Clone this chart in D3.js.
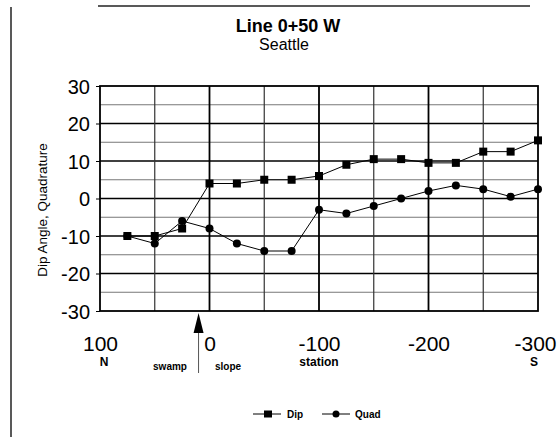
<!DOCTYPE html>
<html>
<head>
<meta charset="utf-8">
<script src="https://cdn.jsdelivr.net/npm/d3@7"></script>
<style>
  body { margin: 0; background: #fff; }
  svg { font-family: Arial, "Liberation Sans", sans-serif; }
</style>
</head>
<body>
<div id="chart"></div>
<script>
// station positions (50 = N end, -300 = S end)
var stations = [75, 50, 25, 0, -25, -50, -75, -100, -125, -150, -175, -200, -225, -250, -275, -300];
var dipValues = [-10, -10, -8, 4, 4, 5, 5, 6, 9, 10.5, 10.5, 9.5, 9.5, 12.5, 12.5, 15.5];
var quadValues = [-10, -12, -6, -8, -12, -14, -14, -3, -4, -2, 0, 2, 3.5, 2.5, 0.5, 2.5];
var xTicks = [100, 0, -100, -200, -300];
var xSubLabels = [{ v: 100, t: "N" }, { v: -100, t: "station" }, { v: -300, t: "S" }];
var yTicks = [30, 20, 10, 0, -10, -20, -30];

var width = 560, height = 437;
var margin = { top: 86, right: 22, bottom: 126, left: 100 };

var svg = d3.select("#chart").append("svg")
  .attr("width", width)
  .attr("height", height);

var x = d3.scaleLinear()
  .domain([100, -300])
  .range([margin.left, width - margin.right]);

var y = d3.scaleLinear()
  .domain([-30, 30])
  .range([height - margin.bottom, margin.top]);

// plain hyphen minus like the original
var fmt = function(d) { return String(d); };

// scanned page frame
svg.append("line")
  .attr("x1", 11).attr("x2", 11)
  .attr("y1", 7).attr("y2", height)
  .attr("stroke", "#222").attr("stroke-width", 1.5);
svg.append("line")
  .attr("x1", 98).attr("x2", 530)
  .attr("y1", 6).attr("y2", 6)
  .attr("stroke", "#222").attr("stroke-width", 1.5);

// title
svg.append("text")
  .attr("x", 288).attr("y", 32)
  .attr("text-anchor", "middle")
  .attr("font-size", "18px").attr("font-weight", "bold")
  .text("Line 0+50 W");
svg.append("text")
  .attr("x", 284).attr("y", 50)
  .attr("text-anchor", "middle")
  .attr("font-size", "16px")
  .text("Seattle");

// horizontal grid, every 5
var hGrid = d3.range(-25, 30, 5);
svg.append("g").selectAll("line")
  .data(hGrid)
  .enter().append("line")
  .attr("x1", x(100)).attr("x2", x(-300))
  .attr("y1", function(d) { return y(d); })
  .attr("y2", function(d) { return y(d); })
  .attr("stroke", function(d) { return d % 10 == 0 ? "#000" : "#777"; })
  .attr("stroke-width", function(d) { return d % 10 == 0 ? 1.5 : 1.2; });

// vertical grid, every 50
var vGrid = d3.range(50, -300, -50);
svg.append("g").selectAll("line")
  .data(vGrid)
  .enter().append("line")
  .attr("x1", function(d) { return x(d); })
  .attr("x2", function(d) { return x(d); })
  .attr("y1", y(30)).attr("y2", y(-30))
  .attr("stroke", function(d) { return d % 100 == 0 ? "#000" : "#333"; })
  .attr("stroke-width", function(d) { return d % 100 == 0 ? 1.8 : 1.2; });

// plot frame
svg.append("rect")
  .attr("x", x(100)).attr("y", y(30))
  .attr("width", x(-300) - x(100))
  .attr("height", y(-30) - y(30))
  .attr("fill", "none")
  .attr("stroke", "#000").attr("stroke-width", 1.8);

// y axis
var yAxis = svg.append("g")
  .attr("transform", "translate(" + x(100) + ",0)")
  .call(d3.axisLeft(y).tickValues(yTicks).tickFormat(fmt).tickSize(4).tickPadding(6));
yAxis.select(".domain").remove();
yAxis.selectAll("text").attr("font-size", "20px").attr("font-family", "Arial, sans-serif").attr("dy", "0.36em");

svg.append("text")
  .attr("transform", "translate(47," + 210 + ") rotate(-90)")
  .attr("text-anchor", "middle")
  .attr("font-size", "13.5px")
  .text("Dip Angle, Quadrature");

// x axis labels
var xAxis = svg.append("g")
  .attr("transform", "translate(0," + y(-30) + ")")
  .call(d3.axisBottom(x).tickValues(xTicks).tickFormat(fmt).tickSize(0).tickPadding(25));
xAxis.select(".domain").remove();
xAxis.selectAll("text").attr("font-size", "21px").attr("font-family", "Arial, sans-serif");
xAxis.selectAll(".tick").filter(function(d) { return d == -300; })
  .select("text").attr("dx", "-3px");

svg.append("g").selectAll("text")
  .data(xSubLabels)
  .enter().append("text")
  .attr("x", function(d) { return x(d.v) + (d.v == 100 ? 4 : d.v == -300 ? -4 : 0); })
  .attr("y", 366)
  .attr("text-anchor", "middle")
  .attr("font-size", "12px").attr("font-weight", "bold")
  .text(function(d) { return d.t; });

// swamp / slope boundary arrow
var ax = x(10);
svg.append("line")
  .attr("x1", ax).attr("x2", ax)
  .attr("y1", 330).attr("y2", 373)
  .attr("stroke", "#555").attr("stroke-width", 1);
svg.append("path")
  .attr("d", "M" + ax + "," + (y(-30) + 2) + " L" + (ax + 5) + "," + 333 + " L" + (ax - 5) + "," + 333 + " Z")
  .attr("fill", "#000");
svg.append("text")
  .attr("x", 170).attr("y", 370)
  .attr("text-anchor", "middle")
  .attr("font-size", "10px").attr("font-weight", "bold")
  .text("swamp");
svg.append("text")
  .attr("x", 228).attr("y", 370)
  .attr("text-anchor", "middle")
  .attr("font-size", "10px").attr("font-weight", "bold")
  .text("slope");

// series
var line = d3.line()
  .x(function(d) { return x(d[0]); })
  .y(function(d) { return y(d[1]); });

var dipData = stations.map(function(s, i) { return [s, dipValues[i]]; });
var quadData = stations.map(function(s, i) { return [s, quadValues[i]]; });

svg.append("path")
  .datum(quadData)
  .attr("d", line)
  .attr("fill", "none").attr("stroke", "#000").attr("stroke-width", 1);
svg.append("path")
  .datum(dipData)
  .attr("d", line)
  .attr("fill", "none").attr("stroke", "#000").attr("stroke-width", 1);

svg.append("g").selectAll("circle")
  .data(quadData)
  .enter().append("circle")
  .attr("cx", function(d) { return x(d[0]); })
  .attr("cy", function(d) { return y(d[1]); })
  .attr("r", 4)
  .attr("fill", "#000");

svg.append("g").selectAll("rect")
  .data(dipData)
  .enter().append("rect")
  .attr("x", function(d) { return x(d[0]) - 4; })
  .attr("y", function(d) { return y(d[1]) - 4; })
  .attr("width", 8).attr("height", 8)
  .attr("fill", "#000");

// legend
var legend = svg.append("g").attr("transform", "translate(0,414)");
legend.append("line").attr("x1", 253).attr("x2", 281).attr("y1", 0).attr("y2", 0).attr("stroke", "#000");
legend.append("rect").attr("x", 264).attr("y", -3.5).attr("width", 8).attr("height", 7).attr("fill", "#000");
legend.append("text").attr("x", 287).attr("y", 4).attr("font-size", "10px").attr("font-weight", "bold").text("Dip");
legend.append("line").attr("x1", 322).attr("x2", 350).attr("y1", 0).attr("y2", 0).attr("stroke", "#000");
legend.append("circle").attr("cx", 336).attr("cy", 0).attr("r", 3.5).attr("fill", "#000");
legend.append("text").attr("x", 355).attr("y", 4).attr("font-size", "10px").attr("font-weight", "bold").text("Quad");
</script>
</body>
</html>
